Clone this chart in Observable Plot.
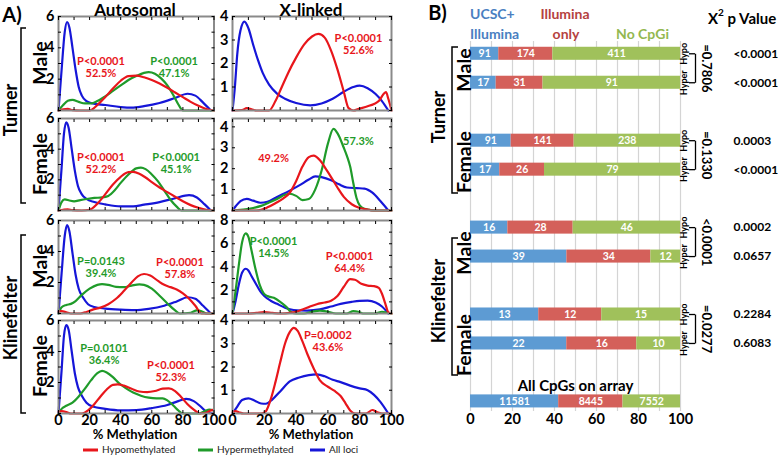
<!DOCTYPE html>
<html><head><meta charset="utf-8">
<script src="https://cdn.jsdelivr.net/npm/d3@7"></script>
<script src="https://cdn.jsdelivr.net/npm/@observablehq/plot@0.6"></script>
<style>
body{margin:0;background:#fff;}
#root{position:relative;width:778px;height:455px;overflow:hidden;font-family:Lato,"Open Sans",sans-serif;}
</style></head><body><div id="root"></div>
<script>
// ===================== Panel A data: density curves [% methylation, density] =====================
const tmAutoHypo  = [[0,0],[3,0.08],[6,0.1],[9,0.02],[14,0],[20,0],[25,0.35],[30,0.85],[35,1.4],[40,1.9],[45,2.2],[50,2.22],[55,2.12],[60,1.95],[65,1.72],[70,1.45],[75,1.15],[80,0.85],[85,0.55],[90,0.3],[95,0.1],[100,0]];
const tmAutoHyper = [[0,0],[3,0.35],[6,0.62],[9,0.68],[13,0.55],[17,0.45],[21,0.45],[25,0.6],[30,0.9],[35,1.25],[40,1.6],[45,1.95],[50,2.2],[55,2.4],[58,2.45],[62,2.35],[66,2.05],[70,1.6],[74,0.95],[77,0.4],[80,0],[100,0]];
const tmAutoAll   = [[0,0],[2,2.6],[4,5.0],[5.5,5.65],[7,5.3],[9,4.0],[11,2.6],[13,1.5],[15,0.95],[18,0.6],[22,0.45],[30,0.35],[40,0.22],[47,0.18],[55,0.28],[65,0.48],[75,0.8],[83,1.07],[88,0.95],[93,0.5],[98,0]];

const tfAutoHypo  = [[0,0],[3,0.05],[6,0.08],[9,0.02],[15,0],[20,0.05],[25,0.45],[30,1.05],[35,1.7],[40,2.2],[45,2.5],[48,2.52],[52,2.4],[56,2.15],[60,1.85],[65,1.5],[70,1.2],[75,0.9],[80,0.6],[85,0.35],[90,0.18],[95,0.05],[100,0]];
const tfAutoHyper = [[0,0],[2,0.55],[4,0.72],[7,0.65],[10,0.6],[14,0.68],[18,0.75],[23,0.82],[28,0.85],[32,0.95],[36,1.3],[40,1.8],[45,2.35],[50,2.75],[53,2.8],[56,2.7],[60,2.35],[64,1.9],[68,1.3],[72,0.7],[76,0.25],[79,0],[100,0]];
const tfAutoAll   = [[0,0],[2,2.8],[3.5,5.0],[5,5.75],[6.5,5.4],[8.5,4.0],[10.5,2.6],[12.5,1.6],[15,1.05],[18,0.75],[23,0.55],[30,0.4],[40,0.27],[48,0.27],[55,0.38],[65,0.55],[75,0.8],[84,1.0],[89,0.85],[94,0.4],[98,0]];

const kmAutoHypo  = [[0,0.12],[2,0.15],[5,0.08],[8,0],[14,0],[18,0.1],[22,0.25],[27,0.38],[32,0.6],[37,0.95],[42,1.45],[47,2.0],[51,2.4],[55,2.55],[59,2.45],[64,2.1],[68,1.85],[72,1.7],[76,1.55],[80,1.3],[84,0.95],[88,0.5],[92,0],[100,0]];
const kmAutoHyper = [[0,0],[2,0.4],[5,0.55],[8,0.62],[11,0.8],[15,1.2],[20,1.6],[25,1.85],[28,1.9],[32,1.85],[37,1.72],[42,1.7],[47,1.8],[52,1.88],[55,1.85],[60,1.6],[65,1.15],[70,0.65],[75,0.2],[78,0],[85,0.05],[89,0.2],[92,0.15],[95,0],[100,0]];
const kmAutoAll   = [[0,0],[2,2.6],[4,5.0],[5.5,5.7],[7,5.3],[9,3.9],[11,2.5],[13,1.6],[16,1.0],[19,0.6],[23,0.42],[30,0.32],[40,0.25],[49,0.22],[58,0.3],[68,0.5],[76,0.78],[83,1.05],[88,0.95],[93,0.5],[98,0]];

const kfAutoHypo  = [[0,0.1],[2,0.15],[5,0.1],[8,0],[15,0],[19,0.2],[23,0.6],[27,1.1],[31,1.55],[35,1.85],[38,1.88],[42,1.8],[47,1.6],[52,1.42],[57,1.38],[62,1.45],[67,1.6],[71,1.62],[75,1.45],[79,1.05],[83,0.6],[87,0.25],[91,0],[95,0.05],[98,0.2],[100,0.25]];
const kfAutoHyper = [[0,0],[2,0.3],[5,0.5],[9,0.7],[13,1.1],[17,1.6],[21,2.15],[25,2.6],[28,2.75],[31,2.65],[35,2.35],[39,1.95],[43,1.65],[48,1.35],[53,1.15],[58,1.02],[63,0.97],[67,0.98],[70,0.85],[74,0.5],[77,0.2],[80,0],[90,0],[94,0.15],[97,0.25],[100,0.2]];
const kfAutoAll   = [[0,0],[2,2.8],[3.5,5.0],[5,5.7],[6.5,5.4],[8.5,4.0],[10.5,2.6],[12.5,1.7],[15,1.15],[18,0.7],[22,0.45],[30,0.3],[40,0.2],[50,0.22],[60,0.35],[70,0.55],[77,0.8],[82,0.95],[87,0.8],[92,0.4],[96,0.05],[100,0]];

const tmXHypo = [[0,0],[6,0.02],[9,0.1],[12,0.05],[15,0],[23,0],[27,0.4],[31,1.0],[35,1.6],[40,2.25],[45,2.8],[50,3.15],[54,3.26],[58,3.1],[62,2.55],[66,1.75],[70,0.8],[73,0.1],[76,0],[80,0.08],[85,0.18],[89,0.28],[92,0.4],[95,0.7],[96.5,0.78],[98,0.5],[100,0]];
const tmXAll  = [[0,0],[1.5,1.0],[3,2.4],[5,3.4],[7.5,3.78],[10,3.5],[13,2.8],[16,2.15],[19,1.6],[23,1.1],[28,0.72],[33,0.5],[40,0.32],[49,0.22],[56,0.3],[63,0.5],[70,0.8],[76,1.0],[80,1.06],[85,0.95],[90,0.7],[94,0.4],[98,0]];

const tfXHypo  = [[0,0],[15,0],[18,0.03],[22,0.15],[27,0.35],[32,0.58],[36,0.85],[40,1.4],[44,2.1],[48,2.55],[51,2.62],[55,2.4],[59,1.95],[62,1.6],[66,1.1],[70,0.65],[75,0.3],[80,0.12],[85,0.05],[88,0],[100,0]];
const tfXHyper = [[0,0],[3,0.02],[8,0.05],[13,0.12],[18,0.22],[23,0.38],[28,0.55],[33,0.75],[36,0.8],[40,0.7],[44,0.5],[48,0.55],[52,1.0],[56,1.9],[60,3.2],[63.5,3.9],[66,3.7],[70,3.0],[72,2.6],[74,2.1],[76,1.3],[78,0.6],[80,0.25],[83,0.08],[87,0.02],[90,0],[100,0]];
const tfXAll   = [[0,0],[2,0.2],[5,0.45],[9,0.56],[13,0.47],[17.5,0.37],[22,0.42],[28,0.65],[36,0.95],[42,1.2],[48,1.48],[52,1.63],[56,1.6],[62,1.45],[67,1.25],[72,1.1],[78,1.07],[83,1.05],[88,0.85],[93,0.45],[98,0]];

const kmXHypo  = [[0,0],[10,0],[15,0.05],[20,0.12],[25,0.05],[30,0],[36,0.05],[40,0.15],[44,0.35],[48,0.55],[53,0.8],[58,0.95],[62,1.1],[66,1.5],[70,2.3],[74,2.95],[77,2.9],[81,2.55],[85,2.4],[89,2.35],[92,2.2],[94,1.7],[96,0.9],[98,0.1],[100,0]];
const kmXHyper = [[0,0],[2,2.0],[4,4.2],[6,6.1],[8.3,6.9],[10,6.6],[12,5.4],[14.5,3.8],[17,2.5],[19.5,1.75],[22,1.5],[26,1.35],[30,1.0],[34,0.55],[37,0.1],[40,0],[45,0],[50,0.15],[55,0.25],[60,0.15],[65,0],[72,0],[76,0.2],[79,0.15],[82,0],[90,0],[94,0.15],[96,0.1],[100,0]];
const kmXAll   = [[0,0],[2,1.1],[4,2.5],[6,3.5],[8.3,3.85],[10,3.7],[12,3.2],[14.5,2.6],[17.5,1.9],[20,1.5],[24,1.1],[28,0.83],[33,0.5],[38.5,0.3],[47,0.25],[55,0.35],[62,0.6],[68,0.83],[75,1.0],[80,1.08],[85,1.1],[90,0.95],[94,0.6],[98,0]];

const kfXHypo = [[0,0.05],[2,0.1],[4,0.05],[7,0],[18,0],[21,0.1],[24,0.6],[27,1.35],[30,2.2],[33,3.0],[36,3.5],[38.6,3.68],[41,3.55],[44,3.1],[47,2.57],[51,1.95],[55,1.42],[60,1.15],[64,0.98],[68,0.75],[71,0.45],[74,0.13],[77,0],[84,0],[88,0.15],[91,0.05],[94,0],[100,0]];
const kfXAll  = [[0,0],[3,0.3],[6,0.58],[10,0.65],[14,0.55],[18,0.43],[21,0.42],[25,0.6],[30,0.95],[36,1.38],[42,1.55],[48,1.65],[53,1.68],[58,1.6],[63,1.45],[68,1.35],[74,1.2],[80,1.08],[85,1.0],[89,0.8],[93,0.5],[98,0]];

const seriesNames  = ["Hypomethylated", "Hypermethylated", "All loci"];
const seriesColors = ["#e8161b", "#1f9b2a", "#1616d8"];
const xTickLabelsA = [0, 20, 40, 60, 80, 100];

// annotations (P value / % of loci) per panel
const annTMa = [{x:27.3,y:2.78,t:"P<0.0001\n52.5%",s:"Hypomethylated"},{x:74.3,y:2.78,t:"P<0.0001\n47.1%",s:"Hypermethylated"}];
const annTFa = [{x:27.3,y:3.1,t:"P<0.0001\n52.2%",s:"Hypomethylated"},{x:75.6,y:3.07,t:"P<0.0001\n45.1%",s:"Hypermethylated"}];
const annKMa = [{x:27.3,y:2.97,t:"P=0.0143\n39.4%",s:"Hypermethylated"},{x:78.1,y:2.94,t:"P<0.0001\n57.8%",s:"Hypomethylated"}];
const annKFa = [{x:29.3,y:3.8,t:"P=0.0101\n36.4%",s:"Hypermethylated"},{x:72.3,y:2.71,t:"P<0.0001\n52.3%",s:"Hypomethylated"}];
const annTMx = [{x:79.2,y:2.81,t:"P<0.0001\n52.6%",s:"Hypomethylated"}];
const annTFx = [{x:25.8,y:2.51,t:"49.2%",s:"Hypomethylated"},{x:79.2,y:3.3,t:"57.3%",s:"Hypermethylated"}];
const annKMx = [{x:25.8,y:5.69,t:"P<0.0001\n14.5%",s:"Hypermethylated"},{x:73.6,y:4.4,t:"P<0.0001\n64.4%",s:"Hypomethylated"}];
const annKFx = [{x:60,y:3.1,t:"P=0.0002\n43.6%",s:"Hypomethylated"}];

const panelsA = [
  {row:0,col:0,ymax:6,  yLabels:[2,4,6],   hypo:tmAutoHypo, hyper:tmAutoHyper, all:tmAutoAll, ann:annTMa},
  {row:0,col:1,ymax:4,  yLabels:[1,2,3,4], hypo:tmXHypo,    hyper:null,        all:tmXAll,    ann:annTMx},
  {row:1,col:0,ymax:6,  yLabels:[2,4,6],   hypo:tfAutoHypo, hyper:tfAutoHyper, all:tfAutoAll, ann:annTFa},
  {row:1,col:1,ymax:4.4,yLabels:[1,2,3,4], hypo:tfXHypo,    hyper:tfXHyper,    all:tfXAll,    ann:annTFx},
  {row:2,col:0,ymax:6,  yLabels:[2,4,6],   hypo:kmAutoHypo, hyper:kmAutoHyper, all:kmAutoAll, ann:annKMa},
  {row:2,col:1,ymax:8,  yLabels:[2,4,6,8], hypo:kmXHypo,    hyper:kmXHyper,    all:kmXAll,    ann:annKMx},
  {row:3,col:0,ymax:6,  yLabels:[2,4,6],   hypo:kfAutoHypo, hyper:kfAutoHyper, all:kfAutoAll, ann:annKFa},
  {row:3,col:1,ymax:4,  yLabels:[1,2,3,4], hypo:kfXHypo,    hyper:null,        all:kfXAll,    ann:annKFx}
];

// ===================== Panel B data =====================
const barKeys = ["Turner Male Hypo","Turner Male Hyper","Turner Female Hypo","Turner Female Hyper",
  "Klinefelter Male Hypo","Klinefelter Male Hyper","Klinefelter Female Hypo","Klinefelter Female Hyper","All CpGs on array"];
const barSlots = ["Turner Male Hypo","Turner Male Hyper","gap1","Turner Female Hypo","Turner Female Hyper","gap2",
  "Klinefelter Male Hypo","Klinefelter Male Hyper","gap3","Klinefelter Female Hypo","Klinefelter Female Hyper","gap4","All CpGs on array"];
const cpgCats   = ["UCSC+ Illumina", "Illumina only", "No CpGi"];
const cpgColors = ["#5d9bd3", "#d4605a", "#a0c15b"];
const ucscIllumina = [91, 17, 91, 17, 16, 39, 13, 22, 11581];
const illuminaOnly = [174, 31, 141, 26, 28, 34, 12, 16, 8445];
const noCpGi       = [411, 91, 238, 79, 46, 12, 15, 10, 7552];
const chiP  = ["<0.0001","<0.0001","0.0003","<0.0001","0.0002","0.0657","0.2284","0.6083"];
const pairP = ["=0.7806","=0.1330","<0.0001","=0.0277"];
const gridB = [0,10,20,30,40,50,60,70,80,90,100];
const xTickLabelsB = [0,20,40,60,80,100];

// ===================== Layout =====================
const font = "Lato, 'Open Sans', sans-serif";
const root = document.getElementById("root");
const colX = [[57.5,213],[232,391]];
const rowY = [[16,110],[118,210],[220,313],[320,413]];

function place(svg, left, top) {
  svg.style.position = "absolute";
  svg.style.left = left + "px";
  svg.style.top = top + "px";
  svg.style.overflow = "visible";
  svg.style.maxWidth = "none";
  root.appendChild(svg);
}

for (const p of panelsA) {
  const [x0,x1] = colX[p.col], [y0,y1] = rowY[p.row];
  const mL = 30, mR = 12, mT = 12, mB = p.row === 3 ? 28 : 4;
  const rows = [];
  if (p.all) p.all.forEach(([x,y]) => rows.push({x, y, s:"All loci"}));
  if (p.hyper) p.hyper.forEach(([x,y]) => rows.push({x, y, s:"Hypermethylated"}));
  if (p.hypo) p.hypo.forEach(([x,y]) => rows.push({x, y, s:"Hypomethylated"}));
  const yMinor = d3.range(0, Math.floor(p.ymax) + 1, 1);
  const xMinor = d3.range(0, 101, 10);
  const svg = Plot.plot({
    width: (x1-x0)+mL+mR, height: (y1-y0)+mT+mB,
    marginLeft: mL, marginRight: mR, marginTop: mT, marginBottom: mB,
    style: {fontFamily: font, background: "transparent", color: "#000"},
    x: {domain: [0,100], axis: null, label: null},
    y: {domain: [0,p.ymax], axis: null, label: null},
    color: {domain: seriesNames, range: seriesColors},
    marks: [
      Plot.line(rows, {x:"x", y:"y", z:"s", stroke:"s", strokeWidth:2.2, curve:"monotone-x"}),
      Plot.frame({stroke:"#8a8a8a", strokeWidth:2}),
      Plot.axisX({anchor:"bottom", ticks:xMinor, tickSize:-3, tickFormat:() => "", label:null}),
      Plot.axisX({anchor:"top", ticks:xMinor, tickSize:-3, tickFormat:() => "", label:null}),
      Plot.axisY({anchor:"left", ticks:yMinor, tickSize:-3, tickFormat:() => "", label:null}),
      Plot.axisY({anchor:"right", ticks:yMinor, tickSize:-3, tickFormat:() => "", label:null}),
      Plot.axisY({anchor:"left", ticks:p.yLabels, tickFormat:d => String(d), tickSize:0, tickPadding:4, fontSize:14.5, fontWeight:"bold", label:null}),
      p.row === 3 ? Plot.axisX({anchor:"bottom", ticks:xTickLabelsA, tickFormat:d => String(d), tickSize:0, tickPadding:1, fontSize:14.5, fontWeight:"bold", label:null}) : null,
      Plot.text(p.ann, {x:"x", y:"y", text:"t", fill:"s", fontSize:11, fontWeight:"bold", lineHeight:1.08})
    ]
  });
  place(svg, x0 - mL, y0 - mT);
}

// ----- Panel B -----
const barRows = [];
barKeys.forEach((k,i) => {
  barRows.push({bar:k, cat:cpgCats[0], n:ucscIllumina[i]});
  barRows.push({bar:k, cat:cpgCats[1], n:illuminaOnly[i]});
  barRows.push({bar:k, cat:cpgCats[2], n:noCpGi[i]});
});
const dirRows  = barKeys.slice(0,8).map(k => ({bar:k, dir: k.endsWith("Hypo") ? "Hypo" : "Hyper"}));
const pRows    = barKeys.slice(0,8).map((k,i) => ({bar:k, p:chiP[i]}));
const pairRows = pairP.map((p,i) => ({hypo:barKeys[2*i], hyper:barKeys[2*i+1], p}));
const frac = v => v / 100; // percent -> share of bar (stack offset "normalize" gives shares)

const svgB = Plot.plot({
  width: 358, height: 455,
  marginLeft: 50, marginRight: 98, marginTop: 41, marginBottom: 44,
  style: {fontFamily: font, background: "transparent", color: "#000"},
  x: {domain: [0,1], axis: null, label: null},
  y: {type: "band", domain: barSlots, range: [38.8, 415.4], paddingInner: 0.55, paddingOuter: 0.275, round: false, axis: null, label: null},
  color: {domain: cpgCats, range: cpgColors},
  marks: [
    Plot.ruleX(gridB.map(frac), {stroke:"#d4d4d4", strokeWidth:1.2}),
    Plot.barX(barRows, Plot.stackX({x:"n", y:"bar", fill:"cat", offset:"normalize", order:cpgCats})),
    Plot.text(barRows, Plot.stackX({x:"n", y:"bar", z:"cat", text:d => String(d.n), offset:"normalize", order:cpgCats, fill:"white", fontSize:10.5, fontWeight:"bold"})),
    Plot.axisX({anchor:"bottom", ticks:xTickLabelsB.map(frac), tickFormat:d => String(Math.round(d*100)), tickSize:0, tickPadding:2, fontSize:14.5, fontWeight:"bold", label:null}),
    Plot.text(dirRows, {x:1, y:"bar", text:"dir", rotate:-90, dx:4, fontSize:9, fontWeight:"bold"}),
    Plot.link(pairRows, {x1:1, x2:1, y1:"hypo", y2:"hyper", dx:15, stroke:"#000", strokeWidth:1.3}),
    Plot.ruleY(pairRows, {y:"hypo", x1:1, x2:1, insetLeft:9, insetRight:-15, stroke:"#000", strokeWidth:1.3}),
    Plot.ruleY(pairRows, {y:"hyper", x1:1, x2:1, insetLeft:9, insetRight:-15, stroke:"#000", strokeWidth:1.3}),
    Plot.text(pairRows, {x:1, y:"hypo", text:"p", rotate:90, dx:26, dy:14.5, fontSize:13, fontWeight:"bold"}),
    Plot.text(pRows, {x:1, y:"bar", text:"p", textAnchor:"start", dx:53, fontSize:12, fontWeight:"bold"}),
    Plot.text([barKeys[8]], {x:0.5, y:d => d, text:d => d, dy:-15.5, fontSize:15, fontWeight:"bold"})
  ]
});
place(svgB, 420, 0);

// ===================== Overlay labels =====================
const ov = d3.select(root).append("svg")
  .attr("width", 778).attr("height", 455)
  .style("position","absolute").style("left","0px").style("top","0px")
  .style("pointer-events","none").style("font-family", font);

function label(x, y, text, {size=14, weight=700, fill="#000", anchor="middle", rotate=0} = {}) {
  return ov.append("text")
    .attr("transform", `translate(${x},${y}) rotate(${rotate})`)
    .attr("text-anchor", anchor).attr("dominant-baseline", "central")
    .attr("font-size", size).attr("font-weight", weight).attr("fill", fill)
    .text(text);
}
function bracket(d) { ov.append("path").attr("d", d).attr("fill","none").attr("stroke","#000").attr("stroke-width",1.5); }

label(12, 14, "A)", {size:20});
label(437.5, 12, "B)", {size:20});
label(135, 9.5, "Autosomal", {size:17});
label(311, 9.5, "X-linked", {size:17});
label(135, 434, "% Methylation", {size:13});
label(311, 434, "% Methylation", {size:13});

// Panel A group labels
label(10, 110, "Turner", {size:18, rotate:-90});
label(10, 318, "Klinefelter", {size:18, rotate:-90});
bracket("M26,28 H21 V203 H26");
bracket("M26,235 H21 V413 H26");
label(39, 63, "Male", {size:19.5, rotate:-90});
label(39, 164, "Female", {size:19.5, rotate:-90});
label(39, 266, "Male", {size:19.5, rotate:-90});
label(39, 366, "Female", {size:19.5, rotate:-90});

// Legend
const legendItems = [[83, seriesColors[0], seriesNames[0]], [198, seriesColors[1], seriesNames[1]], [310, seriesColors[2], seriesNames[2]]];
for (const [x, c, t] of legendItems) {
  ov.append("line").attr("x1", x).attr("x2", x+15).attr("y1", 450).attr("y2", 450).attr("stroke", c).attr("stroke-width", 3);
  label(x+19, 449, t, {size:10, weight:400, anchor:"start", fill:"#222"});
}

// Panel B headers
label(470, 13.5, "UCSC+", {size:14, anchor:"start", fill:"#4a7fc1"});
label(470, 33, "Illumina", {size:14, anchor:"start", fill:"#4a7fc1"});
label(565, 13.5, "Illumina", {size:14, fill:"#b5423f"});
label(566, 33, "only", {size:14, fill:"#b5423f"});
label(642.5, 33, "No CpGi", {size:14, fill:"#93b84f"});
const xp = label(708, 17.5, "", {size:15, anchor:"start"});
xp.append("tspan").text("X");
xp.append("tspan").text("2").attr("font-size", 10).attr("dy", -6);
xp.append("tspan").text(" p Value").attr("dy", 6);

// Panel B group labels
label(438, 117, "Turner", {size:18, rotate:-90});
label(438, 301, "Klinefelter", {size:18, rotate:-90});
bracket("M458,47 H452 V193 H458");
bracket("M458,238 H452 V375 H458");
label(463, 70, "Male", {size:19.5, rotate:-90});
label(463, 162, "Female", {size:19.5, rotate:-90});
label(463, 253, "Male", {size:19.5, rotate:-90});
label(463, 345, "Female", {size:19.5, rotate:-90});
</script></body></html>
